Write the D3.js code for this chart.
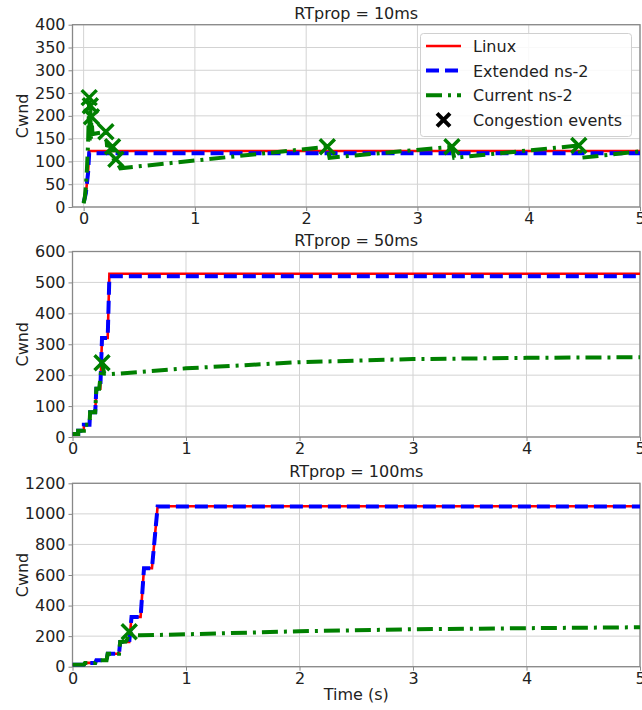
<!DOCTYPE html>
<html>
<head>
<meta charset="utf-8">
<script src="https://cdn.jsdelivr.net/npm/d3@7"></script>
<style>
  body { margin: 0; background: #fff; }
  svg { display: block; font-family: "DejaVu Sans", sans-serif; }
</style>
</head>
<body>
<script>
// values: [time (s), cwnd]
const linux10 = [[0,10],[0.02,30],[0.04,75],[0.05,123],[5,123]];
const ext10 = [[0,10],[0.02,30],[0.04,75],[0.05,118],[5,118]];
const cur10 = [[0,8],[0.01,20],[0.02,45],[0.03,85],[0.04,140],[0.05,240],[0.055,145],[0.06,222],[0.065,150],
  [0.07,198],[0.08,160],[0.2,165],[0.21,135],[0.26,132],[0.27,105],[0.29,103],[0.33,85],[1,102],
  [2.19,132],[2.21,108],[3.31,132],[3.33,108],[4.45,135],[4.47,108],[5,122]];
const events10 = [[0.05,240],[0.06,222],[0.07,198],[0.2,165],[0.26,132],[0.29,105],[2.19,132],[3.31,132],[4.45,135]];

const linux50 = [[0,10],[0.05,10],[0.05,20],[0.1,20],[0.1,40],[0.15,40],[0.155,80],[0.2,80],[0.21,156],
  [0.245,156],[0.26,320],[0.31,320],[0.325,528],[5,528]];
const ext50 = [[0,10],[0.05,10],[0.05,20],[0.1,20],[0.1,40],[0.15,40],[0.155,80],[0.2,80],[0.21,156],
  [0.245,156],[0.26,320],[0.31,320],[0.325,520],[5,520]];
const cur50 = [[0,10],[0.05,10],[0.05,20],[0.1,20],[0.1,40],[0.15,40],[0.155,80],[0.2,80],[0.21,156],
  [0.235,156],[0.26,240],[0.28,205],[0.33,203],[1,222],[2,242],[3,252],[4,256],[5,258]];
const events50 = [[0.26,240]];

const linux100 = [[0,12],[0.1,12],[0.11,25],[0.2,25],[0.21,42],[0.3,42],[0.31,85],[0.41,85],[0.42,162],
  [0.5,162],[0.52,325],[0.6,325],[0.63,644],[0.7,644],[0.75,1050],[5,1050]];
const ext100 = [[0,12],[0.1,12],[0.11,25],[0.2,25],[0.21,42],[0.3,42],[0.31,85],[0.41,85],[0.42,162],
  [0.5,162],[0.52,325],[0.6,325],[0.63,644],[0.7,644],[0.75,1048],[5,1048]];
const cur100 = [[0,12],[0.1,12],[0.11,25],[0.2,25],[0.21,42],[0.3,42],[0.31,85],[0.41,85],[0.42,162],
  [0.47,165],[0.48,175],[0.5,229],[0.53,207],[0.6,205],[1,212],[2,232],[3,245],[4,252],[5,258]];
const events100 = [[0.5,229]];

const titles = ["RTprop = 10ms", "RTprop = 50ms", "RTprop = 100ms"];
const xTicks = [0, 1, 2, 3, 4, 5];
const yTicks10 = [0, 50, 100, 150, 200, 250, 300, 350, 400];
const yTicks50 = [0, 100, 200, 300, 400, 500, 600];
const yTicks100 = [0, 200, 400, 600, 800, 1000, 1200];
const legendNames = ["Linux", "Extended ns-2", "Current ns-2", "Congestion events"];

const width = 642, height = 710;
const svg = d3.select("body").append("svg")
  .attr("width", width)
  .attr("height", height);

const panels = [
  { top: 24.7, bottom: 207, xMin: -0.1, yMax: 400, yTicks: yTicks10, lines: [linux10, ext10, cur10], events: events10 },
  { top: 251.5, bottom: 437, xMin: 0, yMax: 600, yTicks: yTicks50, lines: [linux50, ext50, cur50], events: events50 },
  { top: 483.3, bottom: 666.7, xMin: 0, yMax: 1200, yTicks: yTicks100, lines: [linux100, ext100, cur100], events: events100 }
];

const left = 72.5, right = 640;
const styles = [
  { color: "#ff0000", w: 2.6, dash: null },
  { color: "#0000ff", w: 4, dash: "13,6" },
  { color: "#008000", w: 4, dash: "16,6,3,6" }
];

function xMark(g, x, y, r, color, w) {
  g.append("path")
    .attr("d", `M${x - r},${y - r}L${x + r},${y + r}M${x - r},${y + r}L${x + r},${y - r}`)
    .attr("stroke", color)
    .attr("stroke-width", w)
    .attr("fill", "none");
}

panels.forEach((p, i) => {
  const x = d3.scaleLinear().domain([p.xMin, 5]).range([left, right]);
  const y = d3.scaleLinear().domain([0, p.yMax]).range([p.bottom, p.top]);
  const g = svg.append("g");

  // grid
  g.append("g").selectAll("line").data(xTicks).join("line")
    .attr("x1", d => x(d)).attr("x2", d => x(d))
    .attr("y1", p.top).attr("y2", p.bottom)
    .attr("stroke", "#d3d3d3").attr("stroke-width", 1);
  g.append("g").selectAll("line").data(p.yTicks).join("line")
    .attr("x1", left).attr("x2", right)
    .attr("y1", d => y(d)).attr("y2", d => y(d))
    .attr("stroke", "#d3d3d3").attr("stroke-width", 1);

  // axes
  const xAxis = g.append("g")
    .attr("transform", `translate(0,${p.bottom})`)
    .call(d3.axisBottom(x).tickValues(xTicks).tickFormat(d3.format("d")).tickSize(4).tickPadding(2));
  const yAxis = g.append("g")
    .attr("transform", `translate(${left},0)`)
    .call(d3.axisLeft(y).tickValues(p.yTicks).tickFormat(d3.format("d")).tickSize(4).tickPadding(3));
  [xAxis, yAxis].forEach(a => {
    a.select(".domain").remove();
    a.selectAll("line").attr("stroke", "#888");
    a.selectAll("text").attr("font-size", 16).attr("fill", "#222").attr("font-family", "DejaVu Sans");
  });

  g.append("rect")
    .attr("x", left).attr("y", p.top)
    .attr("width", right - left).attr("height", p.bottom - p.top)
    .attr("fill", "none").attr("stroke", "#888").attr("stroke-width", 1.3);

  // clip
  svg.append("clipPath").attr("id", "clip" + i)
    .append("rect").attr("x", left).attr("y", p.top - 10)
    .attr("width", right - left + 4).attr("height", p.bottom - p.top + 10);

  const plot = g.append("g").attr("clip-path", `url(#clip${i})`);
  const line = d3.line().x(d => x(d[0])).y(d => y(d[1]));

  p.lines.forEach((data, k) => {
    const s = styles[k];
    plot.append("path")
      .datum(data)
      .attr("d", line)
      .attr("fill", "none")
      .attr("stroke", s.color)
      .attr("stroke-width", s.w)
      .attr("stroke-dasharray", s.dash);
  });

  p.events.forEach(d => xMark(plot, x(d[0]), y(d[1]), 7.5, "#008000", 3.5));

  // title and y label
  svg.append("text")
    .attr("x", (left + right) / 2).attr("y", p.top - 6)
    .attr("text-anchor", "middle").attr("font-size", 16).attr("fill", "#222")
    .text(titles[i]);
  svg.append("text")
    .attr("transform", `translate(28,${(p.top + p.bottom) / 2}) rotate(-90)`)
    .attr("text-anchor", "middle").attr("font-size", 16).attr("fill", "#222")
    .text("Cwnd");
});

svg.append("text")
  .attr("x", (left + right) / 2).attr("y", 700)
  .attr("text-anchor", "middle").attr("font-size", 16).attr("fill", "#222")
  .text("Time (s)");

// legend in the first panel
const lg = svg.append("g");
lg.append("rect")
  .attr("x", 420.5).attr("y", 33.5).attr("width", 211).attr("height", 103)
  .attr("rx", 3).attr("fill", "#fff").attr("fill-opacity", 0.85)
  .attr("stroke", "#d0d0d0");
legendNames.forEach((name, k) => {
  const ly = 46 + k * 24.6;
  if (k < 3) {
    const s = styles[k];
    lg.append("line")
      .attr("x1", 426).attr("x2", 461).attr("y1", ly).attr("y2", ly)
      .attr("stroke", s.color).attr("stroke-width", s.w)
      .attr("stroke-dasharray", s.dash);
  } else {
    xMark(lg, 443.5, ly, 6.5, "#000", 4);
  }
  lg.append("text")
    .attr("x", 473).attr("y", ly + 6)
    .attr("font-size", 16).attr("fill", "#222")
    .text(name);
});
</script>
</body>
</html>
